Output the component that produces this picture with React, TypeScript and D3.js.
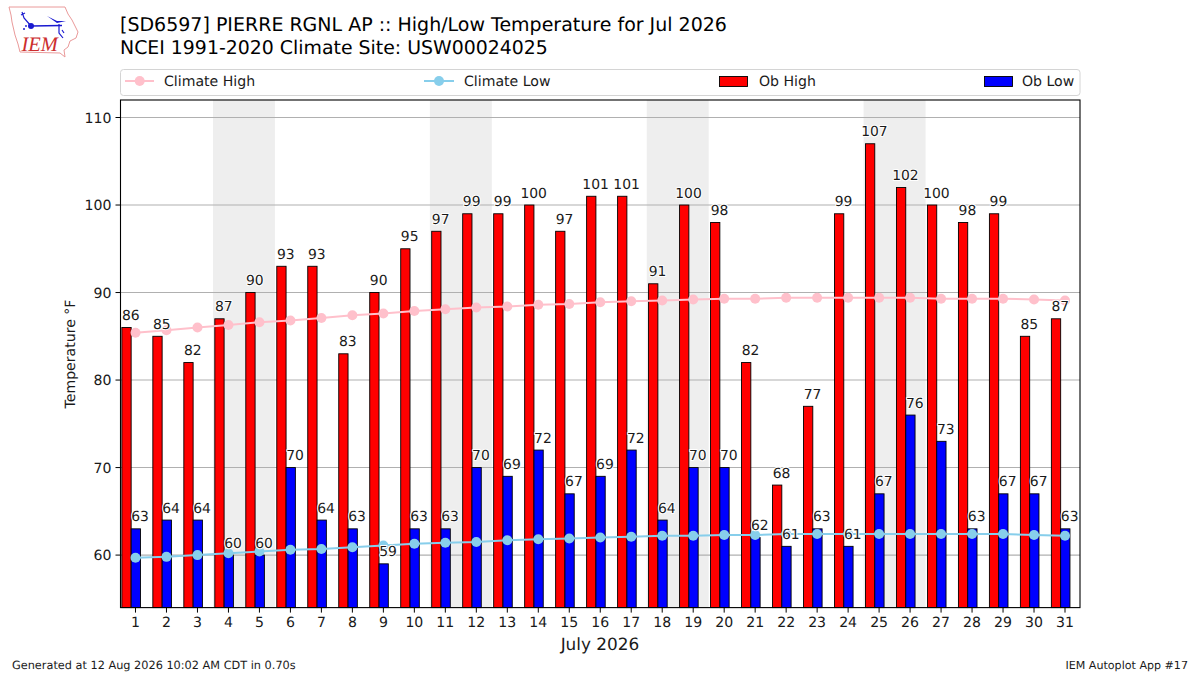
import React from "react";
import * as d3 from "d3";

const days = d3.range(1, 32);
const obHigh = [86,85,82,87,90,93,93,83,90,95,97,99,99,100,97,101,101,91,100,98,82,68,77,99,107,102,100,98,99,85,87];
const obLow = [63,64,64,60,60,70,64,63,59,63,63,70,69,72,67,69,72,64,70,70,62,61,63,61,67,76,73,63,67,67,63];
const climateHigh = [85.4,85.7,86.0,86.3,86.6,86.8,87.1,87.4,87.6,87.9,88.1,88.3,88.4,88.6,88.7,88.9,89.0,89.1,89.2,89.3,89.3,89.4,89.4,89.4,89.4,89.4,89.3,89.3,89.3,89.2,89.1];
const climateLow = [59.7,59.8,60.0,60.2,60.4,60.6,60.7,60.9,61.1,61.3,61.4,61.5,61.7,61.8,61.9,62.0,62.1,62.2,62.2,62.3,62.3,62.4,62.4,62.4,62.4,62.4,62.4,62.4,62.4,62.3,62.2];
const weekendStarts = [4, 11, 18, 25];
const yTicks = [60, 70, 80, 90, 100, 110];
const titleLines = ["[SD6597] PIERRE RGNL AP :: High/Low Temperature for Jul 2026", "NCEI 1991-2020 Climate Site: USW00024025"];

const font = "'DejaVu Sans', sans-serif";
const L = 120.5, R = 1080, T = 100, B = 607.6;
const x = d3.scaleLinear().domain([0.5, 31.5]).range([L - 0.5, R + 0.5]);
const y = d3.scaleLinear().domain([54, 112]).range([B, T]);
const barW = 0.3;
const highStart = -0.44;
const lowStart = -0.14;
const fs = 13.9;
const legendFs = 14.1;
const ink = "#1a1a1a";

function Label({ px, py, text }: { px: number; py: number; text: string }) {
  return (
    <text x={px} y={py} textAnchor="middle" fontSize={fs} fill={ink}
      stroke="#fff" strokeWidth={2} paintOrder="stroke" strokeLinejoin="round">{text}</text>
  );
}

function Logo() {
  return (
    <g>
      <path d="M9 7 L65 7 L68 14 L72 20 L78 32 L76 38 L70 41 L68 47 L64 50 L65 57 L60 53 L20 52 L18 44 L15 35 L12 22 L11 15 Z"
        fill="#fff" stroke="#ea9a9a" strokeWidth={1} />
      <path d="M31 26 L62 25.5" fill="none" stroke="#1a1ad0" strokeWidth={1.6} />
      <path d="M47 16 L57 21 L66 21 L57 23 Z" fill="#1a1ad0" />
      <path d="M22 12 L24 18 L31 26 M21 15 L25 13 M59 24 L59 33 L63 38 M62 30 L64 33" fill="none" stroke="#1a1ad0" strokeWidth={1.2} />
      <circle cx={31} cy={26} r={3} fill="#1a1ad0" />
      <circle cx={24} cy={29} r={1} fill="#1a1ad0" />
      <circle cx={26} cy={26} r={0.9} fill="#1a1ad0" />
      <text x={21.5} y={51} fontFamily="'Liberation Serif', serif" fontStyle="italic" fontSize={20.5} fill="#cc2e2e">IEM</text>
    </g>
  );
}

export default function App() {
  const line = d3.line<number>().x((_, i) => x(days[i])).y((d) => y(d));
  return (
    <svg width={1200} height={675} viewBox="0 0 1200 675" fontFamily={font} textRendering="geometricPrecision"
      style={{ position: "absolute", left: 0, top: 0, background: "#fff" }}>
      <Logo />
      {titleLines.map((t, i) => (
        <text key={t} x={120} y={31 + i * 23.3} fontSize={i === 0 ? 19.0 : 18.9} fill="#000">{t}</text>
      ))}

      {/* legend */}
      <rect x={120.5} y={69.5} width={959.5} height={26} rx={3} fill="#fff" stroke="#d4d4d4" />
      <line x1={125} x2={154} y1={81} y2={81} stroke="pink" strokeWidth={2} />
      <circle cx={139.7} cy={81} r={5} fill="pink" />
      <text x={164} y={86} fontSize={legendFs} fill={ink}>Climate High</text>
      <line x1={424} x2={454} y1={81} y2={81} stroke="skyblue" strokeWidth={2} />
      <circle cx={439} cy={81} r={5} fill="skyblue" />
      <text x={464} y={86} fontSize={legendFs} fill={ink}>Climate Low</text>
      <rect x={719.5} y={76.5} width={28} height={10} fill="red" stroke="#000" strokeWidth={0.9} />
      <text x={759} y={86} fontSize={legendFs} fill={ink}>Ob High</text>
      <rect x={984.5} y={76.5} width={28} height={10} fill="blue" stroke="#000" strokeWidth={0.9} />
      <text x={1022} y={86} fontSize={legendFs} fill={ink}>Ob Low</text>

      {/* weekend bands */}
      {weekendStarts.map((d) => (
        <rect key={d} x={x(d - 0.5)} width={x(d + 1.5) - x(d - 0.5)} y={T} height={B - T} fill="#eee" />
      ))}
      {/* grid */}
      {yTicks.map((t) => (
        <line key={t} x1={L} x2={R} y1={y(t)} y2={y(t)} stroke="#b0b0b0" strokeWidth={1.1} />
      ))}
      {/* bars */}
      {days.map((d, i) => (
        <g key={d} stroke="#000" strokeWidth={0.9}>
          <rect x={x(d + highStart)} width={x(barW) - x(0)} y={y(obHigh[i])} height={B - y(obHigh[i])} fill="red" />
          <rect x={x(d + lowStart)} width={x(barW) - x(0)} y={y(obLow[i])} height={B - y(obLow[i])} fill="blue" />
        </g>
      ))}
      {/* climate lines */}
      <path d={line(climateHigh) ?? ""} fill="none" stroke="pink" strokeWidth={2} />
      {climateHigh.map((v, i) => <circle key={i} cx={x(days[i])} cy={y(v)} r={5} fill="pink" />)}
      <path d={line(climateLow) ?? ""} fill="none" stroke="skyblue" strokeWidth={2} />
      {climateLow.map((v, i) => <circle key={i} cx={x(days[i])} cy={y(v)} r={5} fill="skyblue" />)}
      {/* labels */}
      {days.map((d, i) => (
        <g key={d}>
          <Label px={x(d - barW / 2)} py={y(obHigh[i]) - 7.5} text={String(obHigh[i])} />
          <Label px={x(d + barW / 2)} py={y(obLow[i]) - 7.5} text={String(obLow[i])} />
        </g>
      ))}
      {/* frame */}
      <rect x={L} y={T} width={R - L} height={B - T} fill="none" stroke="#000" strokeWidth={1.1} />
      {/* axes */}
      {yTicks.map((t) => (
        <g key={t}>
          <line x1={L - 5} x2={L} y1={y(t)} y2={y(t)} stroke="#000" />
          <text x={L - 9} y={y(t) + 5} textAnchor="end" fontSize={legendFs} fill={ink}>{t}</text>
        </g>
      ))}
      {days.map((d) => (
        <g key={d}>
          <line x1={x(d)} x2={x(d)} y1={B} y2={B + 5} stroke="#000" />
          <text x={x(d)} y={B + 19} textAnchor="middle" fontSize={legendFs} fill={ink}>{d}</text>
        </g>
      ))}
      <text transform="translate(75,354) rotate(-90)" textAnchor="middle" fontSize={legendFs} fill={ink}>Temperature °F</text>
      <text x={600} y={649.5} textAnchor="middle" fontSize={16.9} fill={ink}>July 2026</text>
      <text x={12} y={669} fontSize={11.3} fill={ink}>Generated at 12 Aug 2026 10:02 AM CDT in 0.70s</text>
      <text x={1188} y={669} textAnchor="end" fontSize={11.1} fill={ink}>IEM Autoplot App #17</text>
    </svg>
  );
}
